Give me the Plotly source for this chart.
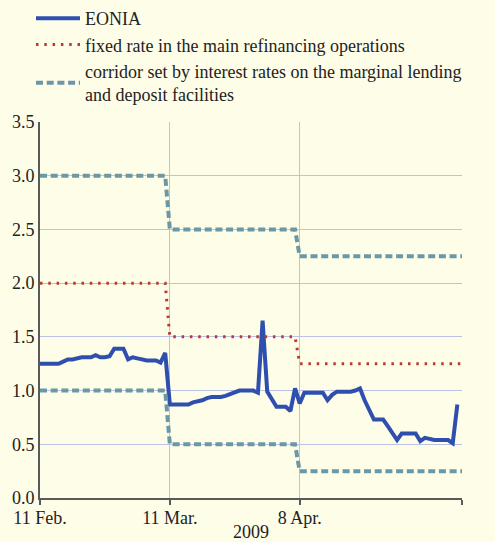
import pandas as pd
import plotly.graph_objects as go

# ---- data (calendar days, weekend/holiday values carried) ----
start_date = "2009-02-11"
eonia = [
    1.25, 1.25, 1.25, 1.25, 1.25, 1.27, 1.29, 1.29, 1.30, 1.31,   # 11-20 Feb
    1.31, 1.31, 1.33, 1.31, 1.31, 1.32, 1.39, 1.39, 1.39, 1.29,   # 21 Feb - 2 Mar
    1.31, 1.30, 1.29, 1.28, 1.28, 1.28, 1.26, 1.35, 0.87, 0.87,   # 3-12 Mar
    0.87, 0.87, 0.87, 0.89, 0.90, 0.91, 0.93, 0.94, 0.94, 0.94,   # 13-22 Mar
    0.95, 0.97, 0.99, 1.00, 1.00, 1.00, 1.00, 0.98, 1.65, 0.99,   # 23 Mar - 1 Apr
    0.92, 0.85, 0.85, 0.85, 0.81, 1.02, 0.88, 0.98, 0.98, 0.98,   # 2-11 Apr
    0.98, 0.98, 0.91, 0.96, 0.99, 0.99, 0.99, 0.99, 1.00, 1.02,   # 12-21 Apr
    0.91, 0.81, 0.73, 0.73, 0.73, 0.67, 0.60, 0.54, 0.60, 0.60,   # 22 Apr - 1 May
    0.60, 0.60, 0.53, 0.56, 0.55, 0.54, 0.54, 0.54, 0.54, 0.51,   # 2-11 May
    0.87,                                                        # 12 May
]
# policy rates: (last date of regime, MRO, marginal lending, deposit)
rate_regimes = [
    ("2009-03-10", 2.00, 3.00, 1.00),
    ("2009-04-07", 1.50, 2.50, 0.50),
    ("2009-05-13", 1.25, 2.25, 0.25),
]
tick_dates = ["2009-02-11", "2009-03-11", "2009-04-08", "2009-05-13"]
tick_labels = ["11 Feb.", "11 Mar.", "8 Apr.", ""]
y_ticks = [0.0, 0.5, 1.0, 1.5, 2.0, 2.5, 3.0, 3.5]
x_title = "2009"
names = ["EONIA", "fixed rate in the main refinancing operations",
         "corridor set by interest rates on the marginal lending<br>and deposit facilities"]

# ---- build series ----
eonia_dates = pd.date_range(start_date, periods=len(eonia), freq="D")
rate_dates = pd.date_range(start_date, rate_regimes[-1][0], freq="D")
mro, mlf, dep = [], [], []
for d in rate_dates:
    for end, m, l, dd in rate_regimes:
        if d <= pd.Timestamp(end):
            mro.append(m); mlf.append(l); dep.append(dd)
            break

BG = "#fefde8"
BLUE = "#2f4fae"
RED = "#b83a32"
TEAL = "#6b98a6"
GRID = "#bcc2e6"
AX = "#5a5a5a"
FONT = "'Times New Roman', 'Liberation Serif', serif"
TXT = "#222"

fig = go.Figure()
fig.add_trace(go.Scatter(x=eonia_dates, y=eonia, mode="lines", name=names[0],
                         line=dict(color=BLUE, width=4)))
fig.add_trace(go.Scatter(x=rate_dates, y=mro, mode="lines", name=names[1],
                         line=dict(color=RED, width=3, dash="2.5px,5.8px")))
fig.add_trace(go.Scatter(x=rate_dates, y=mlf, mode="lines", name=names[2],
                         legendgroup="corr",
                         line=dict(color=TEAL, width=4, dash="7px,3.7px")))
fig.add_trace(go.Scatter(x=rate_dates, y=dep, mode="lines", name=names[2],
                         legendgroup="corr", showlegend=False,
                         line=dict(color=TEAL, width=4, dash="7px,3.7px")))

fig.update_layout(
    width=495, height=542,
    paper_bgcolor=BG, plot_bgcolor=BG,
    margin=dict(l=40, r=33, t=122, b=44, autoexpand=False),
    font=dict(family=FONT, size=18, color=TXT),
    showlegend=True,
    legend=dict(xref="container", yref="container",
                x=31 / 495, y=1 + 4 / 542, xanchor="left", yanchor="top",
                bgcolor="rgba(0,0,0,0)", font=dict(family=FONT, size=18, color=TXT),
                tracegroupgap=0, itemwidth=44, traceorder="normal"),
    xaxis=dict(
        type="date", range=["2009-02-11", "2009-05-13"], automargin=False,
        tickmode="array", tickvals=tick_dates, ticktext=tick_labels,
        ticks="outside", ticklen=5, tickwidth=1.5, tickcolor=AX,
        ticklabelstandoff=-3,
        showgrid=True, gridcolor=GRID, gridwidth=1,
        showline=True, linecolor=AX, linewidth=2,
        tickfont=dict(family=FONT, size=18, color=TXT),
        title=dict(text=x_title, font=dict(family=FONT, size=18, color=TXT), standoff=22),
        zeroline=False,
    ),
    yaxis=dict(
        range=[0, 3.5], tickmode="array", tickvals=y_ticks, tickformat=".1f",
        automargin=False,
        showgrid=True, gridcolor=GRID, gridwidth=1,
        showline=True, linecolor=AX, linewidth=2, ticks="",
        tickfont=dict(family=FONT, size=18, color=TXT), zeroline=False,
    ),
    yaxis2=dict(
        range=[0, 3.5], tickmode="array", tickvals=y_ticks, tickformat=".1f",
        overlaying="y", side="right", matches="y", automargin=False,
        showgrid=False, showline=True, linecolor=AX, linewidth=2, ticks="",
        tickfont=dict(family=FONT, size=18, color=TXT), zeroline=False,
    ),
)

fig.write_html("out.html", config={"displayModeBar": False},
               post_script="document.body.style.margin='0';document.body.style.overflow='hidden';")
